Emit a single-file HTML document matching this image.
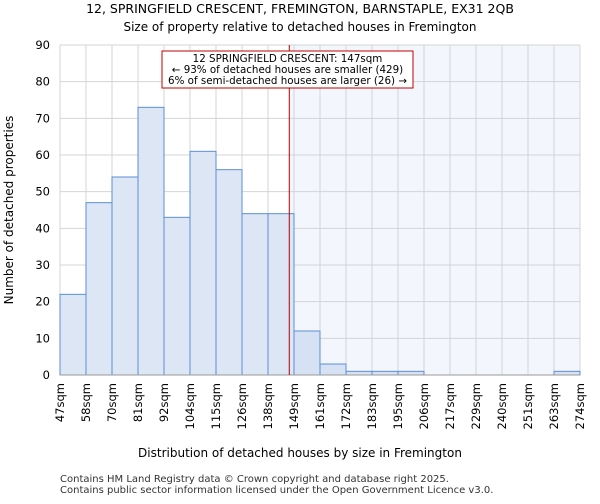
<!DOCTYPE html>
<html><head><meta charset="utf-8"><style>
body{margin:0;background:#fff;font-family:"DejaVu Sans","Liberation Sans",sans-serif}
</style></head><body>
<svg width="600" height="500" id="c" style="font-family:'DejaVu Sans','Liberation Sans',sans-serif">
<text x="300" y="13" text-anchor="middle" font-size="12.5">12, SPRINGFIELD CRESCENT, FREMINGTON, BARNSTAPLE, EX31 2QB</text>
<text x="300" y="31" text-anchor="middle" font-size="12">Size of property relative to detached houses in Fremington</text>
<g id="plot"></g>
<text x="300" y="457" text-anchor="middle" font-size="12">Distribution of detached houses by size in Fremington</text>
<text transform="translate(13,210) rotate(-90)" text-anchor="middle" font-size="12">Number of detached properties</text>
<text x="60" y="482" font-size="10" fill="#333">Contains HM Land Registry data © Crown copyright and database right 2025.</text>
<text x="60" y="493" font-size="10" fill="#333">Contains public sector information licensed under the Open Government Licence v3.0.</text>
</svg>
<script>
const edgeLabels=["47sqm","58sqm","70sqm","81sqm","92sqm","104sqm","115sqm","126sqm","138sqm","149sqm","161sqm","172sqm","183sqm","195sqm","206sqm","217sqm","229sqm","240sqm","251sqm","263sqm","274sqm"];
const counts=[22,47,54,73,43,61,56,44,44,12,3,1,1,1,0,0,0,0,0,1];
const yTicks=[0,10,20,30,40,50,60,70,80,90];
const propertySize=147;
const edgeValues=[47,58,70,81,92,104,115,126,138,149,161,172,183,195,206,217,229,240,251,263,274];
const NS="http://www.w3.org/2000/svg";
const g=document.getElementById('plot');
const X0=60,X1=580,Y0=375,Y1=45;
const bw=(X1-X0)/counts.length;
const x=i=>X0+i*bw;
const y=v=>Y0-(v/90)*(Y0-Y1);
function sizeX(s){let i=0;while(i<edgeValues.length-2&&s>edgeValues[i+1])i++;return x(i)+bw*(s-edgeValues[i])/(edgeValues[i+1]-edgeValues[i]);}
function mk(t,a){const e=document.createElementNS(NS,t);for(const k in a)e.setAttribute(k,a[k]);g.appendChild(e);return e;}
const px=sizeX(propertySize);
let sh=mk('rect',{x:px,y:Y1,width:X1-px,height:Y0-Y1,fill:'#f4f6fd'});


edgeLabels.forEach((l,i)=>{let ln=mk('line',{x1:x(i),x2:x(i),y1:Y1,y2:Y0,stroke:'#d4d4d4','stroke-width':1});


let t=mk('text',{transform:`translate(${x(i)+4},${Y0+8}) rotate(-90)`,'text-anchor':'end','font-size':11.5});t.textContent=l;

});
yTicks.forEach(v=>{let ln=mk('line',{x1:X0,x2:X1,y1:y(v),y2:y(v),stroke:'#d4d4d4','stroke-width':1});


let t=mk('text',{x:X0-10,y:y(v)+4,'text-anchor':'end','font-size':11.5});t.textContent=v;

});
counts.forEach((c,i)=>{if(c<=0)return;let r=mk('rect',{x:x(i),y:y(c),width:bw,height:Y0-y(c),fill:x(i)>=px?'#d6e1f3':'#dde6f4',stroke:'#5b8fd6','stroke-width':1});

});
let ax=mk('line',{x1:X0,x2:X1,y1:Y0,y2:Y0,stroke:'#999'});


let ml=mk('line',{x1:px,x2:px,y1:Y1,y2:Y0,stroke:'#b00000','stroke-width':1});


let box=mk('rect',{x:162,y:51,width:251,height:37,fill:'#fff',stroke:'#c00000','stroke-width':1});


["12 SPRINGFIELD CRESCENT: "+propertySize+"sqm","← 93% of detached houses are smaller (429)","6% of semi-detached houses are larger (26) →"].forEach((s,i)=>{let t=mk('text',{x:287.5,y:62+i*11,'text-anchor':'middle','font-size':10.3});t.textContent=s;

});
</script>
</body></html>
